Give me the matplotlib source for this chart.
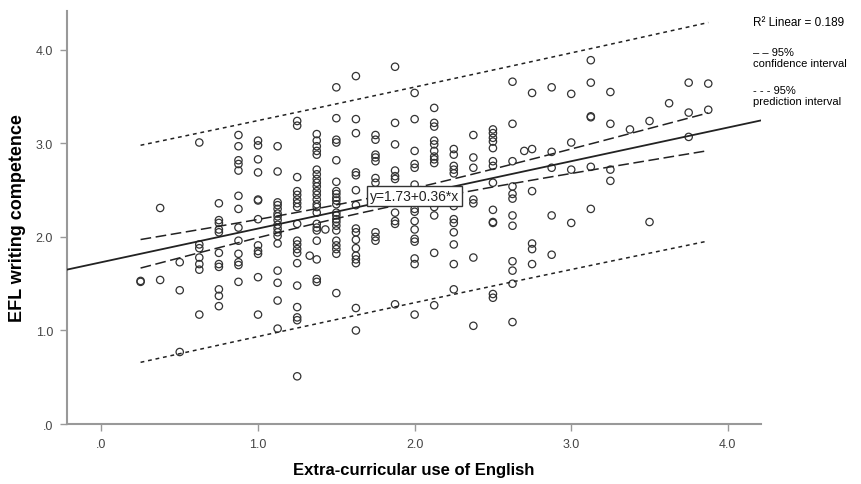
import numpy as np
import matplotlib.pyplot as plt
from matplotlib.ticker import FuncFormatter

plt.rcParams['font.family'] = ['Liberation Sans', 'DejaVu Sans']

# extra-curricular use score (x) for each column of respondents
use_levels = [0.25, 0.375, 0.5, 0.625, 0.75, 0.875, 1.0, 1.125, 1.25, 1.375,
              1.5, 1.625, 1.75, 1.875, 2.0, 2.125, 2.25, 2.375, 2.5, 2.625,
              2.75, 2.875, 3.0, 3.125, 3.25, 3.375, 3.5, 3.625, 3.75, 3.875]

# writing competence scores within each column
competence = [
    [1.52, 1.53],
    [2.31, 1.54],
    [1.73, 1.43, 0.77],
    [3.01, 1.92, 1.88, 1.78, 1.71, 1.65, 1.17],
    [2.36, 2.18, 2.15, 2.08, 2.05, 1.83, 1.71, 1.68, 1.44, 1.37, 1.26],
    [3.09, 2.97, 2.82, 2.78, 2.71, 2.44, 2.30, 2.10, 1.96, 1.82, 1.73, 1.70, 1.52],
    [3.03, 2.98, 2.83, 2.69, 2.40, 2.39, 2.19, 1.91, 1.85, 1.82, 1.57, 1.17],
    [2.97, 2.70, 2.37, 2.34, 2.30, 2.25, 2.22, 2.18, 2.13, 2.09, 2.05, 2.01, 1.93,
     1.64, 1.51, 1.32, 1.02],
    [3.24, 3.19, 2.64, 2.49, 2.45, 2.40, 2.36, 2.32, 2.14, 1.96, 1.92, 1.87, 1.83,
     1.72, 1.48, 1.25, 1.14, 1.11, 0.51],
    [3.10, 3.03, 2.97, 2.92, 2.88, 2.72, 2.67, 2.62, 2.58, 2.54, 2.49, 2.45, 2.40,
     2.35, 2.32, 2.26, 2.14, 2.10, 2.07, 1.96, 1.76, 1.55, 1.52],
    [3.60, 3.27, 3.04, 3.01, 2.82, 2.59, 2.49, 2.46, 2.42, 2.39, 2.35, 2.26, 2.23,
     2.19, 2.16, 2.12, 2.07, 1.96, 1.91, 1.87, 1.82, 1.40],
    [3.72, 3.26, 3.11, 2.69, 2.66, 2.50, 2.34, 2.09, 2.05, 1.97, 1.88, 1.80, 1.76,
     1.72, 1.24, 1.00],
    [3.09, 3.04, 2.88, 2.85, 2.81, 2.63, 2.58, 2.05, 2.00, 1.96],
    [3.82, 3.22, 2.99, 2.71, 2.65, 2.62, 2.26, 2.17, 2.14, 1.28],
    [3.54, 3.26, 2.92, 2.78, 2.74, 2.56, 2.40, 2.30, 2.27, 2.17, 2.08, 1.98, 1.95,
     1.77, 1.71, 1.17],
    [3.38, 3.22, 3.18, 3.03, 2.99, 2.92, 2.86, 2.83, 2.79, 2.32, 2.23, 1.83, 1.27],
    [2.94, 2.88, 2.76, 2.72, 2.68, 2.33, 2.19, 2.15, 2.05, 1.92, 1.71, 1.44],
    [3.09, 2.85, 2.74, 2.40, 2.36, 1.78, 1.05],
    [3.15, 3.11, 3.06, 3.02, 2.95, 2.81, 2.76, 2.58, 2.29, 2.16, 2.15, 1.39, 1.35],
    [3.66, 3.21, 2.81, 2.54, 2.46, 2.41, 2.23, 2.12, 1.74, 1.64, 1.50, 1.09],
    [3.54, 2.94, 2.49, 1.93, 1.87, 1.71],
    [3.60, 2.91, 2.74, 2.23, 1.81],
    [3.53, 3.01, 2.72, 2.15],
    [3.89, 3.65, 3.29, 3.28, 2.75, 2.30],
    [3.55, 3.21, 2.72, 2.60],
    [3.15],
    [3.24, 2.16],
    [3.43],
    [3.65, 3.33, 3.07],
    [3.64, 3.36],
]

# a few respondents off the regular grid
extra_use = [1.33, 1.43, 2.70]
extra_comp = [1.80, 2.08, 2.92]

intercept, slope = 1.73, 0.36
r_squared = 0.189

x = np.concatenate([np.repeat(u, len(c)) for u, c in zip(use_levels, competence)] + [extra_use])
y = np.concatenate([np.array(c) for c in competence] + [extra_comp])

# residual spread around the fitted line, for the 95% bands
n = len(x)
resid = y - (intercept + slope * x)
s = np.sqrt(np.sum(resid ** 2) / (n - 2))
xbar = x.mean()
sxx = np.sum((x - xbar) ** 2)
t = 1.969
xs = np.linspace(x.min(), x.max(), 200)
fit = intercept + slope * xs
ci = t * s * np.sqrt(1 / n + (xs - xbar) ** 2 / sxx)
pi = t * s * np.sqrt(1 + 1 / n + (xs - xbar) ** 2 / sxx)

fig = plt.figure(figsize=(8.62, 4.85), dpi=100)
ax = fig.add_axes([0.0777, 0.1237, 0.8048, 0.8523])

ax.scatter(x, y, s=28, facecolors='none', edgecolors='#333333', linewidths=0.9, zorder=3)

xl = np.array([-0.22, 4.21])
ax.plot(xl, intercept + slope * xl, color='#222222', lw=1.3, zorder=4)
ax.plot(xs, fit + ci, color='#222222', lw=1.1, dashes=(7, 3), zorder=4)
ax.plot(xs, fit - ci, color='#222222', lw=1.1, dashes=(7, 3), zorder=4)
ax.plot(xs, fit + pi, color='#222222', lw=1.1, dashes=(2.5, 2.5), zorder=4)
ax.plot(xs, fit - pi, color='#222222', lw=1.1, dashes=(2.5, 2.5), zorder=4)

ax.text(2.0, 2.44, 'y=1.73+0.36*x', ha='center', va='center', fontsize=10,
        color='#222222', zorder=6,
        bbox=dict(boxstyle='square,pad=0.2', fc='white', ec='#333333', lw=1))

ax.set_xlim(-0.22, 4.21)
ax.set_ylim(0, 4.42)
ax.set_xticks([0, 1, 2, 3, 4])
ax.set_yticks([0, 1, 2, 3, 4])
fmt = FuncFormatter(lambda v, p: '.0' if v == 0 else f'{v:.1f}')
ax.xaxis.set_major_formatter(fmt)
ax.yaxis.set_major_formatter(fmt)
for side in ['top', 'right']:
    ax.spines[side].set_visible(False)
for side in ['left', 'bottom']:
    ax.spines[side].set_color('#999999')
    ax.spines[side].set_linewidth(1.5)
ax.tick_params(axis='both', direction='out', length=5, width=1, color='#999999',
               labelcolor='#444444', labelsize=9, pad=5)

ax.set_xlabel('Extra-curricular use of English', fontsize=12, fontweight='bold', labelpad=9)
ax.set_ylabel('EFL writing competence', fontsize=13, fontweight='bold', labelpad=7)

fig.text(0.873, 0.953, 'R\u00b2 Linear = 0.189', fontsize=8.5, va='center')
fig.text(0.873, 0.890, '\u2013 \u2013 95%', fontsize=8, va='center')
fig.text(0.873, 0.868, 'confidence interval', fontsize=8, va='center')
fig.text(0.873, 0.813, '- - - 95%', fontsize=8, va='center')
fig.text(0.873, 0.790, 'prediction interval', fontsize=8, va='center')

fig.savefig('out.png', dpi=100)
